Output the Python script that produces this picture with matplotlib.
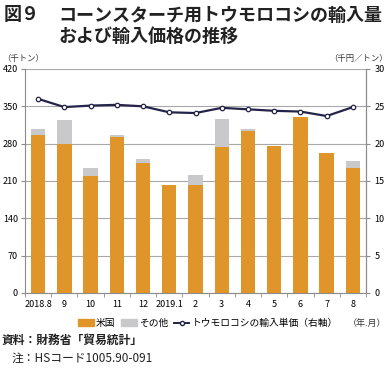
import matplotlib
matplotlib.use("Agg")
import matplotlib.pyplot as plt
from matplotlib.lines import Line2D
from matplotlib.patches import Patch

plt.rcParams['font.family'] = ['Noto Sans CJK JP', 'DejaVu Sans']

# 年.月
mois = ["2018.8", "9", "10", "11", "12", "2019.1", "2", "3", "4", "5", "6", "7", "8"]
# 千トン
usa = [297, 280, 220, 292, 243, 202, 203, 273, 303, 276, 330, 262, 235]
autres = [11, 44, 14, 4, 8, 0, 18, 54, 5, 0, 0, 0, 13]
# 千円／トン
prix = [26.0, 24.9, 25.1, 25.2, 25.0, 24.2, 24.1, 24.8, 24.6, 24.4, 24.3, 23.7, 24.9]

orange = "#E0952B"
gris = "#C9C9CB"
marine = "#24244A"
axe = "#8C8C8C"

fig = plt.figure(figsize=(3.9, 3.68), dpi=100)
ax = fig.add_axes([25/390, 1 - 293/368, 341/390, 224/368])
x = list(range(len(mois)))

ax.bar(x, usa, width=0.55, color=orange, zorder=2)
ax.bar(x, autres, width=0.55, bottom=usa, color=gris, zorder=2)
ax.set_xlim(-0.5, len(mois) - 0.5)
ax.set_ylim(0, 420)
ax.set_yticks(range(0, 421, 70))
ax.grid(axis="y", color="#A8A8A8", linewidth=0.8, zorder=0)
ax.set_xticks(x)
ax.set_xticklabels(mois, fontsize=6.5)
ax.set_xticks([i - 0.5 for i in range(len(mois) + 1)], minor=True)
ax.tick_params(axis="x", which="major", length=0, pad=5)
ax.tick_params(axis="x", which="minor", length=3, color=axe)
ax.tick_params(axis="y", length=3, color=axe, labelsize=6.5, pad=2)
ax.spines["top"].set_visible(False)
for s in ["left", "bottom", "right"]:
    ax.spines[s].set_color(axe)

ax2 = ax.twinx()
ax2.plot(x, prix, color=marine, linewidth=1.6, marker="o", markersize=3.2,
         markerfacecolor="white", markeredgecolor=marine, markeredgewidth=0.9, zorder=3)
ax2.set_ylim(0, 30)
ax2.set_yticks(range(0, 31, 5))
ax2.tick_params(axis="y", length=3, color=axe, labelsize=6.5, pad=3)
for s in ["top", "left", "bottom"]:
    ax2.spines[s].set_visible(False)
ax2.spines["right"].set_color(axe)

# titre
fig.text(4/390, 1 - 15/368, "図９", fontsize=13, fontweight="bold", va="center", color="#222222")
fig.text(58/390, 1 - 15/368, "コーンスターチ用トウモロコシの輸入量", fontsize=13,
         fontweight="bold", va="center", color="#222222")
fig.text(58/390, 1 - 36/368, "および輸入価格の推移", fontsize=13,
         fontweight="bold", va="center", color="#222222")

fig.text(2/390, 1 - 59/368, "（千トン）", fontsize=6, va="center", color="#333333")
fig.text(388/390, 1 - 59/368, "（千円／トン）", fontsize=6, va="center", ha="right", color="#333333")
fig.text(386/390, 1 - 323/368, "（年.月）", fontsize=6.5, va="center", ha="right", color="#333333")

handles = [Patch(color=orange), Patch(color=gris),
           Line2D([], [], color=marine, linewidth=1.4, marker="o", markersize=3,
                  markerfacecolor="white", markeredgecolor=marine)]
fig.legend(handles, ["米国", "その他", "トウモロコシの輸入単価（右軸）"],
           loc="center", bbox_to_anchor=(208/390, 1 - 323/368), ncol=3, frameon=False,
           fontsize=7, handlelength=1.6, handleheight=0.7, handletextpad=0.2,
           columnspacing=0.6)

fig.text(2/390, 1 - 340/368, "資料：財務省「貿易統計」", fontsize=8.5, fontweight="bold",
         va="center", color="#222222")
fig.text(12/390, 1 - 358/368, "注：HSコード1005.90-091", fontsize=8.5,
         va="center", color="#222222")

fig.savefig("out.png", dpi=100)
